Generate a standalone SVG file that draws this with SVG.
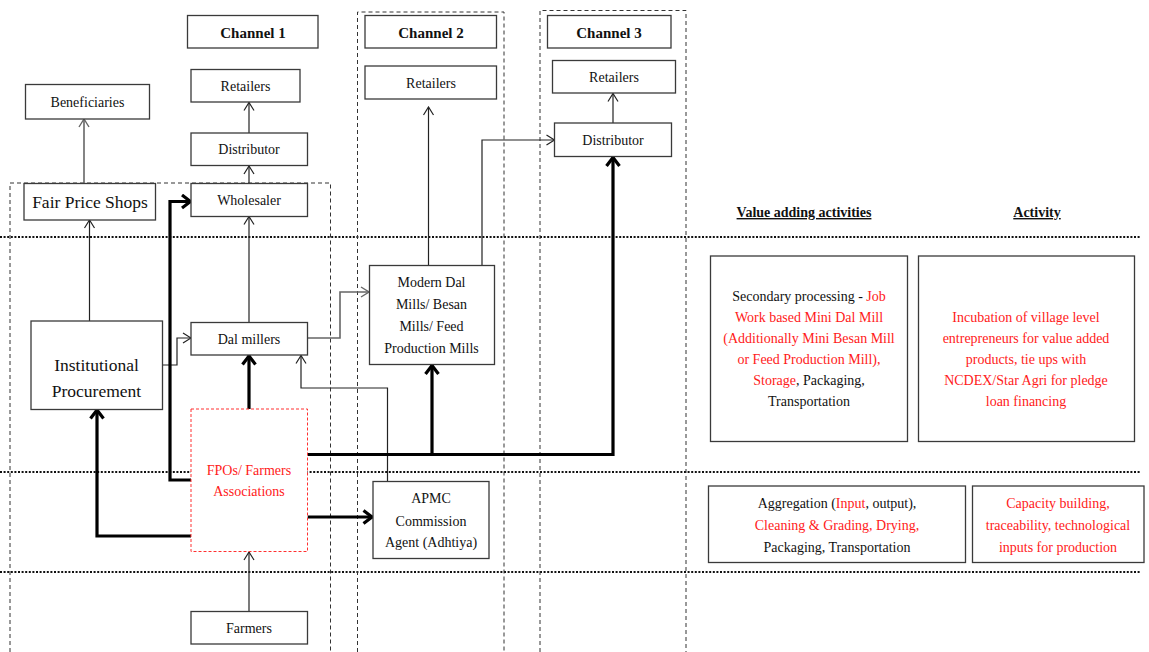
<svg xmlns="http://www.w3.org/2000/svg" width="1149" height="652" viewBox="0 0 1149 652">
  <style>
    text { font-size: 14px; fill: #111; text-anchor: middle; }
    .big { font-size: 17.5px; }
    .head { font-weight: bold; font-size: 15px; }
    .ul { font-weight: bold; font-size: 14px; text-decoration: underline; }
    .red { fill: #ff1a1a; }
    .box { fill: #fff; stroke: #3a3a3a; stroke-width: 1.3; }
    .fpo { fill: #fff; stroke: #ff3030; stroke-width: 1; stroke-dasharray: 3 2; }
    .region { fill: none; stroke: #333; stroke-width: 1; stroke-dasharray: 4 3; }
    .band { stroke: #111; stroke-width: 2; stroke-dasharray: 2 1.6; }
    .thin { fill: none; stroke: #222; stroke-width: 1.2; marker-end: url(#open); }
    .grey { fill: none; stroke: #666; stroke-width: 1.6; marker-end: url(#openGrey); }
    .thick { fill: none; stroke: #000; stroke-width: 3.2; marker-end: url(#bold); }
  </style>
  <defs>
    <marker id="open" markerUnits="userSpaceOnUse" markerWidth="12" markerHeight="12" viewBox="0 0 12 12" refX="11" refY="6" orient="auto">
      <path d="M3,1 L11,6 L3,11" fill="none" stroke="#222" stroke-width="1.2"/>
    </marker>
    <marker id="openGrey" markerUnits="userSpaceOnUse" markerWidth="12" markerHeight="12" viewBox="0 0 12 12" refX="11" refY="6" orient="auto">
      <path d="M3,1 L11,6 L3,11" fill="none" stroke="#666" stroke-width="1.4"/>
    </marker>
    <marker id="bold" markerUnits="userSpaceOnUse" markerWidth="16" markerHeight="16" viewBox="0 0 16 16" refX="14" refY="8" orient="auto">
      <path d="M5,1.5 L13.5,8 L5,14.5" fill="none" stroke="#000" stroke-width="3.2"/>
    </marker>
  </defs>

  <rect width="1149" height="652" fill="#fff"/>

  <!-- horizontal band separators -->
  <g id="bands">
    <line class="band" x1="0" y1="237" x2="1141" y2="237"/>
    <line class="band" x1="0" y1="472" x2="1141" y2="472"/>
    <line class="band" x1="0" y1="572" x2="1141" y2="572"/>
  </g>

  <!-- dashed channel regions -->
  <g id="regions">
    <path class="region" d="M10,652 V183 H330.5 V652"/>
    <path class="region" d="M357.5,652 V12 H504 V652"/>
    <path class="region" d="M540,652 V10.5 H686 V652"/>
  </g>

  <!-- connectors -->
  <g id="connectors">
    <path class="thin" d="M249,133 V102.5"/>
    <path class="thin" d="M249,183 V166"/>
    <path class="thin" d="M249,322 V216.5"/>
    <path class="thin" d="M89.5,321 V220"/>
    <path class="grey" d="M84,183 V119"/>
    <path class="thin" d="M162,365 H177 V338 H191"/>
    <path class="grey" d="M307.5,338 H340 V292 H369"/>
    <path class="thin" d="M428.5,265.5 V107"/>
    <path class="thin" d="M482,265.5 V140 H554.5"/>
    <path class="thin" d="M613,123 V93.5"/>
    <path class="thin" d="M387.5,481.5 V388 H301 V355.5"/>
    <path class="thin" d="M249,611.5 V552"/>

    <path class="thick" d="M191,480 H170 V201.5 H191"/>
    <path class="thick" d="M191,536 H97 V409.5"/>
    <path class="thick" d="M249,409 V355.5"/>
    <path class="thick" d="M307.5,454.5 H613 V157"/>
    <path class="thick" d="M432,454.5 V365"/>
    <path class="thick" d="M307.5,517 H372.5"/>
  </g>

  <g font-family="Liberation Serif, DejaVu Serif, serif">
  <!-- Channel 1 column -->
  <g id="channel1">
    <rect class="box" x="187.5" y="15.5" width="130.5" height="32.5"/>
    <text class="head" x="253" y="37.5">Channel 1</text>
  </g>
  <g id="retailers1">
    <rect class="box" x="191" y="69.5" width="109" height="32.5"/>
    <text x="245.5" y="91">Retailers</text>
  </g>
  <g id="beneficiaries">
    <rect class="box" x="25.5" y="84.5" width="124" height="34.5"/>
    <text x="87.5" y="107">Beneficiaries</text>
  </g>
  <g id="distributor1">
    <rect class="box" x="191" y="133" width="116.5" height="32.5"/>
    <text x="249" y="154">Distributor</text>
  </g>
  <g id="fair-price-shops">
    <rect class="box" x="24" y="183.5" width="131.5" height="36.5"/>
    <text class="big" x="90" y="208">Fair Price Shops</text>
  </g>
  <g id="wholesaler">
    <rect class="box" x="191" y="183.5" width="116.5" height="33"/>
    <text x="249" y="205">Wholesaler</text>
  </g>
  <g id="institutional-procurement">
    <rect class="box" x="31" y="321" width="131.5" height="88.5"/>
    <text class="big" x="96.5" y="371">Institutional</text>
    <text class="big" x="96.5" y="397">Procurement</text>
  </g>
  <g id="dal-millers">
    <rect class="box" x="191" y="322.5" width="116.5" height="32.5"/>
    <text x="249" y="344">Dal millers</text>
  </g>
  <g id="fpos">
    <rect class="fpo" x="191" y="409" width="116.5" height="142.5"/>
    <text class="red" x="249" y="475">FPOs/ Farmers</text>
    <text class="red" x="249" y="496">Associations</text>
  </g>
  <g id="farmers">
    <rect class="box" x="191" y="611.5" width="116.5" height="32.5"/>
    <text x="249" y="633">Farmers</text>
  </g>

  <!-- Channel 2 column -->
  <g id="channel2">
    <rect class="box" x="365" y="15.5" width="131.5" height="32.5"/>
    <text class="head" x="431" y="37.5">Channel 2</text>
  </g>
  <g id="retailers2">
    <rect class="box" x="365" y="66" width="131.5" height="33"/>
    <text x="431" y="87.5">Retailers</text>
  </g>
  <g id="modern-mills">
    <rect class="box" x="369.5" y="265.5" width="125" height="99"/>
    <text x="431.5" y="287">Modern Dal</text>
    <text x="431.5" y="309">Mills/ Besan</text>
    <text x="431.5" y="331">Mills/ Feed</text>
    <text x="431.5" y="353">Production Mills</text>
  </g>
  <g id="apmc">
    <rect class="box" x="373" y="481.5" width="116" height="77"/>
    <text x="431" y="503">APMC</text>
    <text x="431" y="526">Commission</text>
    <text x="431" y="547">Agent (Adhtiya)</text>
  </g>

  <!-- Channel 3 column -->
  <g id="channel3">
    <rect class="box" x="547.5" y="15.5" width="123.5" height="32.5"/>
    <text class="head" x="609" y="37.5">Channel 3</text>
  </g>
  <g id="retailers3">
    <rect class="box" x="552.5" y="60.5" width="123" height="32.5"/>
    <text x="614" y="82">Retailers</text>
  </g>
  <g id="distributor3">
    <rect class="box" x="554.5" y="123" width="117" height="33.5"/>
    <text x="613" y="145">Distributor</text>
  </g>

  <!-- activity columns -->
  <g id="headers">
    <text class="ul" x="804" y="217">Value adding activities</text>
    <text class="ul" x="1037" y="217">Activity</text>
  </g>
  <g id="secondary-processing">
    <rect class="box" x="710.5" y="256" width="197" height="185.5"/>
    <text x="809" y="301">Secondary processing  - <tspan class="red">Job</tspan></text>
    <text class="red" x="809" y="322">Work based Mini Dal Mill</text>
    <text class="red" x="809" y="343">(Additionally Mini Besan Mill</text>
    <text class="red" x="809" y="364">or Feed Production Mill),</text>
    <text x="809" y="385"><tspan class="red">Storage</tspan>, Packaging,</text>
    <text x="809" y="406">Transportation</text>
  </g>
  <g id="incubation">
    <rect class="box" x="918.5" y="256" width="216" height="185.5"/>
    <text class="red" x="1026" y="322">Incubation of village  level</text>
    <text class="red" x="1026" y="343">entrepreneurs for value added</text>
    <text class="red" x="1026" y="364">products, tie ups with</text>
    <text class="red" x="1026" y="385">NCDEX/Star Agri for pledge</text>
    <text class="red" x="1026" y="406">loan financing</text>
  </g>
  <g id="aggregation">
    <rect class="box" x="708.5" y="486" width="257" height="76.5"/>
    <text x="837" y="508">Aggregation  (<tspan class="red">Input</tspan>, output),</text>
    <text class="red" x="837" y="530">Cleaning &amp; Grading,  Drying,</text>
    <text x="837" y="552">Packaging, Transportation</text>
  </g>
  <g id="capacity-building">
    <rect class="box" x="972.5" y="486" width="171.5" height="76.5"/>
    <text class="red" x="1058" y="508">Capacity building,</text>
    <text class="red" x="1058" y="530">traceability, technological</text>
    <text class="red" x="1058" y="552">inputs for production</text>
  </g>
  </g>
</svg>
